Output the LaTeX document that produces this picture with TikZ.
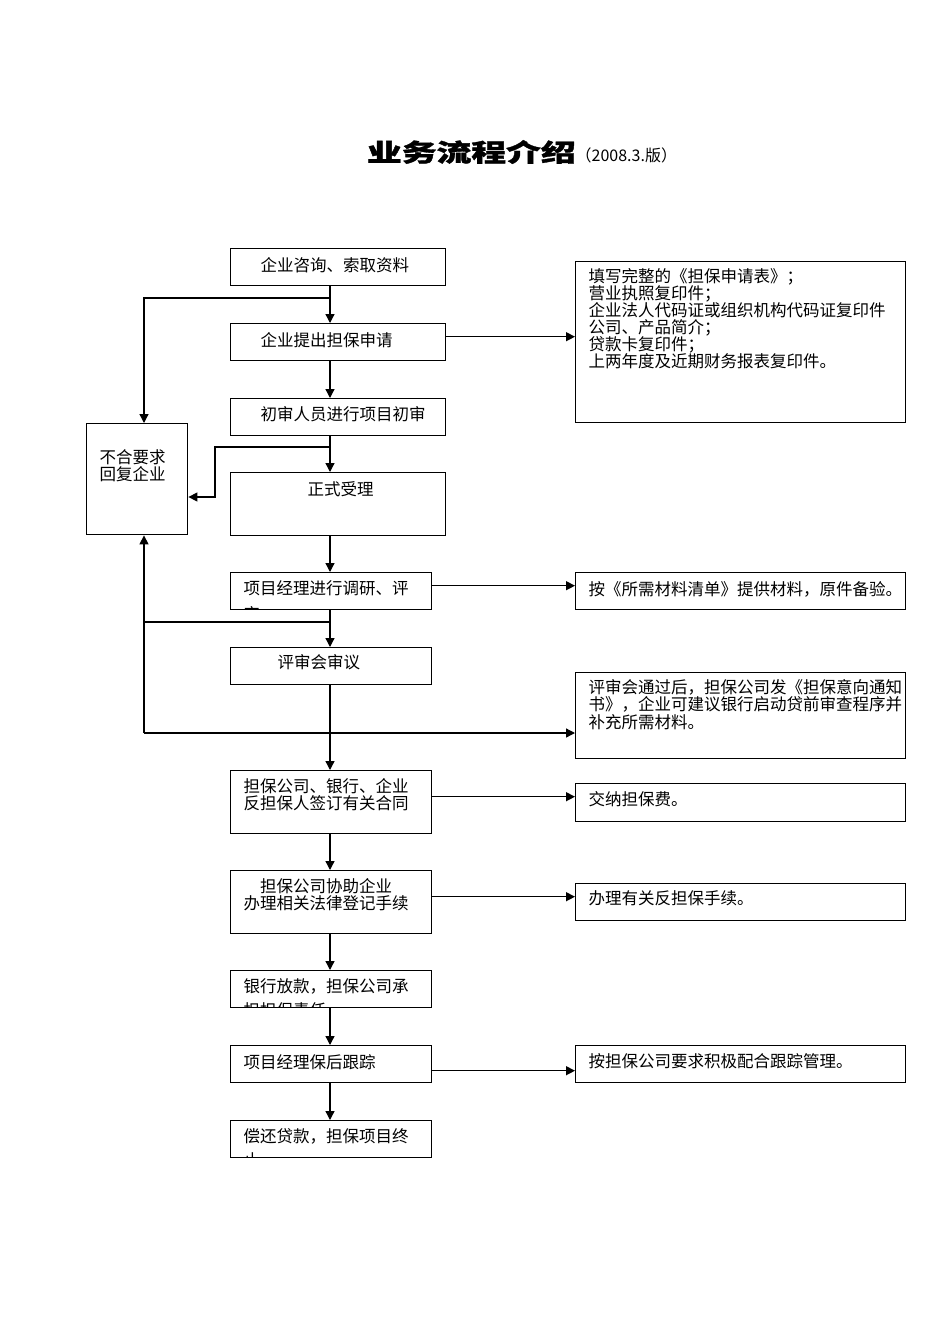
\documentclass[tikz,border=0pt]{standalone}
\usepackage{fontspec}
\usepackage{graphicx}
\usepackage{trimclip}
\usetikzlibrary{arrows.meta,positioning}
\setmainfont{Noto Sans CJK SC}
\newfontfamily\heavy{Noto Sans CJK SC}[BoldFeatures={FakeBold=1.3}]

% box text: width, height, top gap, left gap, lines
\newcommand{\boxtext}[5]{\parbox[c][#2pt][t]{#1pt}{\vspace*{#3pt}\leftskip=#4pt\relax #5\par}}
\newcommand{\cliptext}[5]{\clipbox{0pt 0pt 0pt 0pt}{\boxtext{#1}{#2}{#3}{#4}{#5}}}

\begin{document}
\begin{tikzpicture}[x=1pt,y=-1pt,
  box/.style={draw,line width=1.4pt,inner sep=0pt,anchor=north west,
              font=\fontsize{16.5}{17}\selectfont},
  arr/.style={-{Triangle[length=9pt,width=9pt]},line width=1.3pt},
  link/.style={line width=1.3pt}
]
\fill[white] (0,0) rectangle (950,1344);
\useasboundingbox (0,0) rectangle (950,1344);

\node (title) at (522,152) {\scalebox{1.42}[1]{\heavy\bfseries\fontsize{24.5}{24.5}\selectfont 业务流程介绍}\fontsize{16}{16}\selectfont（2008.3.版）};

% main column
\node[box] (consult)  at (230,248)  {\boxtext{215}{37}{9}{30}{企业咨询、索取资料}};
\node[box] (apply)    at (230,323)  {\boxtext{215}{37}{9}{30}{企业提出担保申请}};
\node[box] (screen)   at (230,398)  {\boxtext{215}{37}{7.5}{30}{初审人员进行项目初审}};
\node[box] (accept)   at (230,472)  {\boxtext{215}{63}{8.5}{77}{正式受理}};
\node[box] (research) at (230,572)  {\cliptext{201}{37}{7.5}{13}{项目经理进行调研、评\\[9pt]审}};
\node[box] (review)   at (230,647)  {\boxtext{201}{37}{7}{47}{评审会审议}};
\node[box] (sign)     at (230,770)  {\boxtext{201}{63}{8}{13}{担保公司、银行、企业\\反担保人签订有关合同}};
\node[box] (assist)   at (230,870)  {\boxtext{201}{63}{8}{13}{\hspace*{16.5pt}担保公司协助企业\\办理相关法律登记手续}};
\node[box] (loan)     at (230,970)  {\cliptext{201}{37}{7.5}{13}{银行放款，担保公司承\\[7pt]担担保责任}};
\node[box] (track)    at (230,1045) {\boxtext{201}{37}{8.5}{13}{项目经理保后跟踪}};
\node[box] (repay)    at (230,1120) {\cliptext{201}{37}{7.5}{13}{偿还贷款，担保项目终\\[7pt]止}};

% rejected
\node[box] (reject)   at (86,423)   {\boxtext{101}{111}{26}{13}{不合要求\\回复企业}};

% right column
\node[box] (docs)     at (575,261)  {\boxtext{330}{161}{7}{13}{填写完整的《担保申请表》；\\营业执照复印件；\\企业法人代码证或组织机构代码证复印件\\公司、产品简介；\\贷款卡复印件；\\上两年度及近期财务报表复印件。}};
\node[box] (list)     at (575,572)  {\boxtext{330}{37}{9}{13}{按《所需材料清单》提供材料，原件备验。}};
\node[box] (notice)   at (575,672)  {\boxtext{330}{86}{6.5}{13}{评审会通过后，担保公司发《担保意向通知\\[0.5pt]书》，企业可建议银行启动贷前审查程序并\\[0.5pt]补充所需材料。}};
\node[box] (fee)      at (575,783)  {\boxtext{330}{38}{8}{13}{交纳担保费。}};
\node[box] (counter)  at (575,883)  {\boxtext{330}{37}{7}{13}{办理有关反担保手续。}};
\node[box] (mgmt)     at (575,1045) {\boxtext{330}{37}{7.5}{13}{按担保公司要求积极配合跟踪管理。}};

\coordinate (sp) at (330,0);
\coordinate (lx) at (144,0);
\coordinate (f1) at (330,298);
\coordinate (f2) at (330,447);
\coordinate (k2) at (215,497);
\coordinate (f3) at (330,622);
\coordinate (f4) at (144,733);

\draw[arr] (consult.south -| sp) -- (apply.north -| sp);
\draw[arr] (f1) -| (reject.north -| lx);
\draw[arr] ([yshift=5.5pt]apply.east) -- ([yshift=5.5pt]apply.east -| docs.west);
\draw[arr] (apply.south -| sp) -- (screen.north -| sp);
\draw[arr] (screen.south -| sp) -- (accept.north -| sp);
\draw[arr] (f2) -| (k2) -- (k2 -| reject.east);
\draw[arr] (accept.south -| sp) -- (research.north -| sp);
\draw[arr] ([yshift=5.5pt]research.east) -- ([yshift=5.5pt]research.east -| list.west);
\draw[arr] (research.south -| sp) -- (review.north -| sp);
\draw[link] (f3) -- (f3 -| lx);
\draw[arr] (f4) -- (reject.south -| lx);
\draw[arr] (f4) -- (f4 -| notice.west);
\draw[arr] (review.south -| sp) -- (sign.north -| sp);
\draw[arr] ([yshift=5.5pt]sign.east) -- ([yshift=5.5pt]sign.east -| fee.west);
\draw[arr] (sign.south -| sp) -- (assist.north -| sp);
\draw[arr] ([yshift=5.5pt]assist.east) -- ([yshift=5.5pt]assist.east -| counter.west);
\draw[arr] (assist.south -| sp) -- (loan.north -| sp);
\draw[arr] (loan.south -| sp) -- (track.north -| sp);
\draw[arr] ([yshift=-6.5pt]track.east) -- ([yshift=-6.5pt]track.east -| mgmt.west);
\draw[arr] (track.south -| sp) -- (repay.north -| sp);
\end{tikzpicture}
\end{document}
